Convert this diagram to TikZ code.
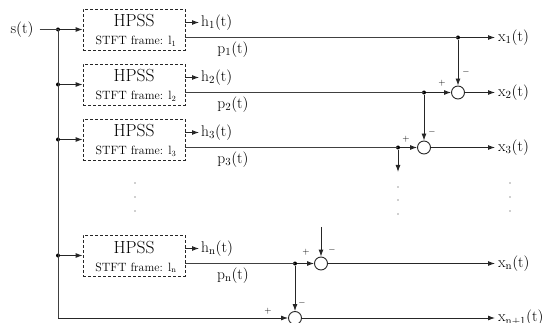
\documentclass[tikz,border=0pt]{standalone}
\usepackage{fix-cm}
\usepackage{fontspec}
\usetikzlibrary{arrows.meta}
\tikzset{
  ln/.style={draw=black!75, line width=0.9pt},
  arr/.style={draw=black!85, line width=0.9pt, -{Latex[length=7pt,width=5pt]}},
  hpss/.style={draw=black!85, line width=0.8pt, dash pattern=on 3pt off 2pt, minimum width=102pt, minimum height=41pt, inner sep=0pt},
  sumc/.style={circle, draw=black!85, line width=0.9pt, minimum size=13pt, inner sep=0pt},
  jdot/.style={circle, fill=black, inner sep=0pt, minimum size=4pt},
  vdot/.style={circle, fill=black!80, inner sep=0pt, minimum size=1.4pt},
  lab/.style={font=\fontsize{15.5}{18}\selectfont, inner sep=0pt},
  olab/.style={lab, anchor=west, inner sep=3pt},
  sgn/.style={font=\fontsize{9}{10}\selectfont, inner sep=0pt},
  big/.style={font=\fontsize{17.5}{20}\selectfont, inner sep=0pt, anchor=base},
  small/.style={font=\fontsize{12}{14}\selectfont, inner sep=0pt, anchor=base}
}
\newcommand\hpssblk[3]{%
  \node[hpss] (b#1) at (134,#2) {};
  \node[big] (b#1h) at ([yshift=2.5pt]b#1.center) {HPSS};
  \node[small] (b#1s) at ([yshift=-15.5pt,xshift=2pt]b#1.center) {STFT frame: $\mathrm{l_{#3}}$};
  \node[jdot] (j#1) at (58,#2) {};
  \draw[arr] (j#1) -- (b#1);
  \node[lab, anchor=west, inner sep=2pt] (h#1) at (199,#2-7) {$\mathrm{h_{#3}(t)}$};
  \draw[arr] (b#1.east |- h#1.west) -- (h#1.west);
  \node[lab] (pl#1) at (233,#2+20) {$\mathrm{p_{#3}(t)}$};
}
\begin{document}
\begin{tikzpicture}[x=1pt,y=-1pt]
\useasboundingbox (0,0) rectangle (546,323);

% input
\node[lab] (s) at (22,29.5) {$\mathrm{s(t)}$};

\hpssblk{1}{29.5}{1}
\hpssblk{2}{84.5}{2}
\hpssblk{3}{139.5}{3}
\hpssblk{n}{255.5}{n}

\draw[ln, shorten <=6pt] (s.east) -- (j1.center);
\coordinate (bc) at (58,318);
\draw[ln] (j1.center) -- (bc);

% junction dots on p lines
\node[jdot] (d1) at (458,37.5) {};
\node[jdot] (d2) at (424,92.5) {};
\node[jdot] (d3) at (398,147.5) {};
\node[jdot] (dn) at (295,263.5) {};

% summing circles
\node[sumc] (c2) at (458,92.5) {};
\node[sumc] (c3) at (424,147.5) {};
\node[sumc] (cn) at (321,263.5) {};
\node[sumc] (cn1) at (295,318) {};

% outputs
\node[olab] (x1) at (495,37.5) {$\mathrm{x_{1}(t)}$};
\node[olab] (x2) at (495,92.5) {$\mathrm{x_{2}(t)}$};
\node[olab] (x3) at (495,147.5) {$\mathrm{x_{3}(t)}$};
\node[olab] (xn) at (495,263.5) {$\mathrm{x_{n}(t)}$};
\node[olab] (xn1) at (495,318) {$\mathrm{x_{n+1}(t)}$};

% p lines
\draw[ln] (b1.east |- d1) -- (d1.center);
\draw[ln] (b2.east |- d2) -- (d2.center);
\draw[ln] (b3.east |- d3) -- (d3.center);
\draw[ln] (bn.east |- dn) -- (dn.center);

% arrows
\draw[arr] (d1) -- (x1.west);
\draw[arr] (d1) -- (c2);
\draw[arr] (d2) -- (c2);
\draw[arr] (c2) -- (x2.west);
\draw[arr] (d2) -- (c3);
\draw[arr] (d3) -- (c3);
\draw[arr] (c3) -- (x3.west);
\coordinate (d3e) at (398,172);
\draw[arr] (d3) -- (d3e);
\coordinate (cnin) at (321,227);
\draw[arr] (cnin) -- (cn);
\draw[arr] (dn) -- (cn);
\draw[arr] (cn) -- (xn.west);
\draw[arr] (dn) -- (cn1);
\draw[arr] (bc) -- (cn1);
\draw[arr] (cn1) -- (xn1.west);

% signs
\node[sgn] (s2p) at (442,83) {$+$};
\node[sgn] (s2m) at (466,72) {$-$};
\node[sgn] (s3p) at (406,139) {$+$};
\node[sgn] (s3m) at (432,132) {$-$};
\node[sgn] (snp) at (306,252) {$+$};
\node[sgn] (snm) at (332,250) {$-$};
\node[sgn] (sn1m) at (302,303) {$-$};
\node[sgn] (sn1p) at (268,311) {$+$};

% vertical ellipsis dots
\node[vdot] (v1a) at (135,183) {};
\node[vdot] (v1b) at (135,197) {};
\node[vdot] (v1c) at (135,211) {};
\node[vdot] (v2a) at (398,187) {};
\node[vdot] (v2b) at (398,200) {};
\node[vdot] (v2c) at (398,214) {};
\node[vdot] (v3a) at (510,183) {};
\node[vdot] (v3b) at (510,197) {};
\node[vdot] (v3c) at (510,211) {};
\end{tikzpicture}
\end{document}
